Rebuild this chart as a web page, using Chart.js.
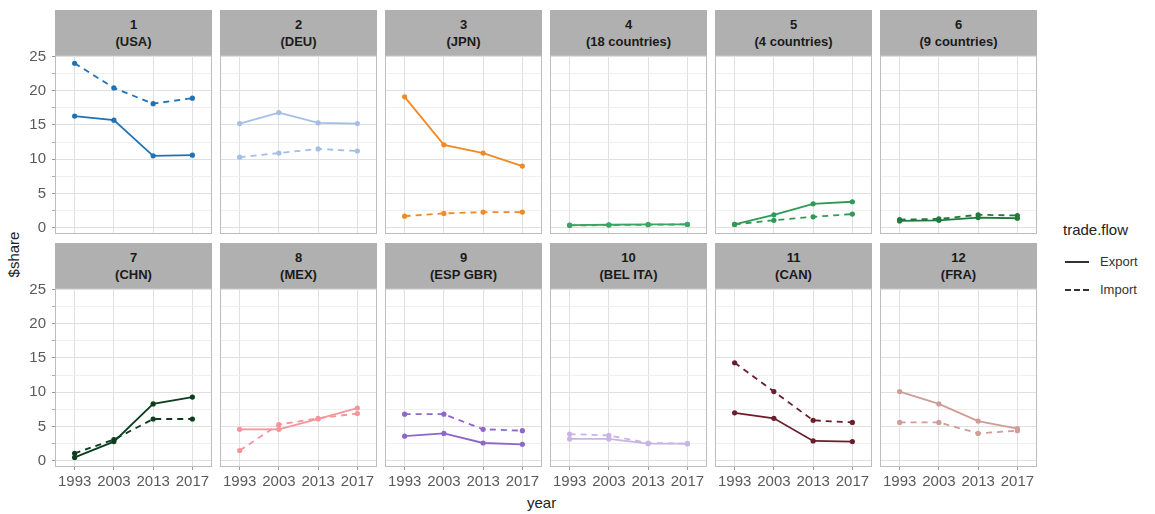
<!DOCTYPE html>
<html lang="en">
<head>
    <meta charset="UTF-8">
    <title>Trade share by cluster</title>
    <script src="https://cdn.jsdelivr.net/npm/chart.js"></script>
    <style>
        body {
            margin: 0;
            background: #ffffff;
            font-family: "Liberation Sans", Arial, sans-serif;
        }
        #wrap {
            position: relative;
            width: 1155px;
            height: 514px;
            overflow: hidden;
        }
        .panel, .strip {
            position: absolute;
        }
        .strip {
            background: #b0b0b0;
            color: #1a1a1a;
            font-weight: bold;
            font-size: 13px;
            line-height: 17px;
            text-align: center;
            box-sizing: border-box;
            padding-top: 6px;
        }
        .axis-title {
            position: absolute;
            font-size: 15px;
            color: #222;
        }
        .legend-key {
            position: absolute;
            width: 24px;
            height: 0;
        }
        .legend-text {
            position: absolute;
            font-size: 13px;
            color: #333;
            line-height: 16px;
        }
    </style>
</head>
<body>
<div id="wrap">
    <div class="axis-title" style="left:-12px;top:246px;transform:rotate(-90deg);width:50px;text-align:center;">$share</div>
    <div class="axis-title" style="left:527px;top:494px;">year</div>

    <div class="axis-title" style="left:1063px;top:221px;">trade.flow</div>
    <div class="legend-key" style="left:1065px;top:261px;border-top:2px solid #333;"></div>
    <div class="legend-text" style="left:1100px;top:254px;">Export</div>
    <div class="legend-key" style="left:1065px;top:289px;border-top:2px dashed #333;"></div>
    <div class="legend-text" style="left:1100px;top:282px;">Import</div>
</div>

<script>
    const years = ['1993', '2003', '2013', '2017'];
    const yTicks = [0, 5, 10, 15, 20, 25];
    const clusterIds = ['1', '2', '3', '4', '5', '6', '7', '8', '9', '10', '11', '12'];
    const clusterMembers = ['(USA)', '(DEU)', '(JPN)', '(18 countries)', '(4 countries)', '(9 countries)',
                            '(CHN)', '(MEX)', '(ESP GBR)', '(BEL ITA)', '(CAN)', '(FRA)'];

    // share of world trade, one row per cluster, one value per year
    const exportShare = [
        [16.3, 15.7, 10.5, 10.6],
        [15.2, 16.8, 15.3, 15.2],
        [19.1, 12.1, 10.9, 9.0],
        [0.4, 0.45, 0.5, 0.5],
        [0.5, 1.9, 3.5, 3.8],
        [1.0, 1.1, 1.5, 1.4],
        [0.5, 2.8, 8.3, 9.3],
        [4.6, 4.6, 6.1, 7.7],
        [3.6, 4.0, 2.6, 2.4],
        [3.2, 3.2, 2.5, 2.5],
        [7.0, 6.2, 2.9, 2.8],
        [10.1, 8.3, 5.8, 4.7]
    ];
    const importShare = [
        [24.0, 20.4, 18.1, 18.9],
        [10.3, 10.9, 11.5, 11.2],
        [1.7, 2.1, 2.3, 2.3],
        [0.35, 0.4, 0.45, 0.5],
        [0.5, 1.1, 1.6, 2.0],
        [1.2, 1.3, 1.9, 1.8],
        [1.1, 3.1, 6.1, 6.1],
        [1.5, 5.3, 6.2, 6.9],
        [6.8, 6.8, 4.6, 4.4],
        [3.9, 3.7, 2.6, 2.5],
        [14.3, 10.1, 5.9, 5.6],
        [5.6, 5.6, 4.0, 4.4]
    ];

    const clusterColors = ['#2171b5', '#a3bfe8', '#f08a24', '#3aa564', '#2e9a56', '#1f7a3c',
                           '#0b3d1f', '#f8939c', '#8f66c9', '#c9b4e4', '#6a1e2b', '#cf9c98'];

    // facet geometry
    const plotW = 157, plotH = 179;
    const colLeft = c => 55 + 165 * c;
    const rowTop = [55, 288];
    const stripH = 45;
    const yAxisW = 40, xAxisH = 30, labelRoom = 10;

    const gridMinor = [];
    for (let v = 0; v <= 25; v += 2.5) gridMinor.push(v);

    const noPadding = s => {
        s.paddingTop = 0;
        s.paddingBottom = 0;
        s.paddingLeft = 0;
        s.paddingRight = 0;
    };

    const panelBorder = {
        id: 'panelBorder',
        afterDraw(chart) {
            const a = chart.chartArea, ctx = chart.ctx;
            ctx.save();
            ctx.strokeStyle = '#bdbdbd';
            ctx.lineWidth = 1;
            ctx.strokeRect(Math.round(a.left) + 0.5, Math.round(a.top) + 0.5,
                           Math.round(a.right - a.left) - 1, Math.round(a.bottom - a.top) - 1);
            ctx.restore();
        }
    };

    const wrap = document.getElementById('wrap');

    clusterIds.forEach((id, i) => {
        const r = Math.floor(i / 6), c = i % 6;
        const showY = c === 0, showX = r === 1;
        const left = colLeft(c), top = rowTop[r];
        const padTop = showY ? labelRoom : 0;

        const strip = document.createElement('div');
        strip.className = 'strip';
        strip.style.left = left + 'px';
        strip.style.top = (top - stripH) + 'px';
        strip.style.width = plotW + 'px';
        strip.style.height = stripH + 'px';
        strip.innerHTML = id + '<br>' + clusterMembers[i];
        wrap.appendChild(strip);

        // left column keeps room for the y labels, bottom row for the x labels
        const box = document.createElement('div');
        box.className = 'panel';
        const w = plotW + (showY ? yAxisW : 0), h = plotH + (showX ? xAxisH : 0) + padTop;
        box.style.left = (left - (showY ? yAxisW : 0)) + 'px';
        box.style.top = (top - padTop) + 'px';
        const cv = document.createElement('canvas');
        cv.width = w;
        cv.height = h;
        box.appendChild(cv);
        wrap.appendChild(box);

        const color = clusterColors[i];
        new Chart(cv, {
            type: 'line',
            data: {
                labels: years,
                datasets: [
                    { label: 'Export', data: exportShare[i], borderColor: color, backgroundColor: color,
                      borderWidth: 1.8, pointRadius: 2.6, pointBorderWidth: 0, tension: 0 },
                    { label: 'Import', data: importShare[i], borderColor: color, backgroundColor: color,
                      borderWidth: 1.8, borderDash: [6, 5], pointRadius: 2.6, pointBorderWidth: 0, tension: 0 }
                ]
            },
            options: {
                responsive: false,
                animation: false,
                devicePixelRatio: 1,
                layout: { autoPadding: false, padding: { top: padTop, left: 0, right: 0, bottom: 0 } },
                plugins: { legend: { display: false }, tooltip: { enabled: false } },
                scales: {
                    x: {
                        type: 'category',
                        offset: true,
                        border: { display: false },
                        grid: { color: '#e0e0e0', lineWidth: 1, drawTicks: showX, tickLength: 3, tickColor: '#999' },
                        ticks: { display: showX, padding: 3, color: '#5a5a5a', font: { size: 15, family: '"Liberation Sans", Arial' },
                                 maxRotation: 0, autoSkip: false },
                        afterFit: s => { s.height = showX ? xAxisH : 0; noPadding(s); }
                    },
                    y: {
                        min: -0.9,
                        max: 25.2,
                        border: { display: false },
                        afterBuildTicks: s => { s.ticks = gridMinor.map(v => ({ value: v })); },
                        grid: {
                            color: ctx => (ctx.tick && yTicks.includes(ctx.tick.value)) ? '#e0e0e0' : '#ececec',
                            lineWidth: ctx => (ctx.tick && yTicks.includes(ctx.tick.value)) ? 1 : 0.8,
                            drawTicks: showY, tickLength: 3, tickColor: '#999'
                        },
                        ticks: {
                            display: showY, padding: 6, color: '#5a5a5a', autoSkip: false,
                            font: { size: 15, family: '"Liberation Sans", Arial' },
                            callback: v => yTicks.includes(v) ? String(v) : ''
                        },
                        afterFit: s => { s.width = showY ? yAxisW : 0; noPadding(s); }
                    }
                }
            },
            plugins: [panelBorder]
        });
    });
</script>
</body>
</html>
